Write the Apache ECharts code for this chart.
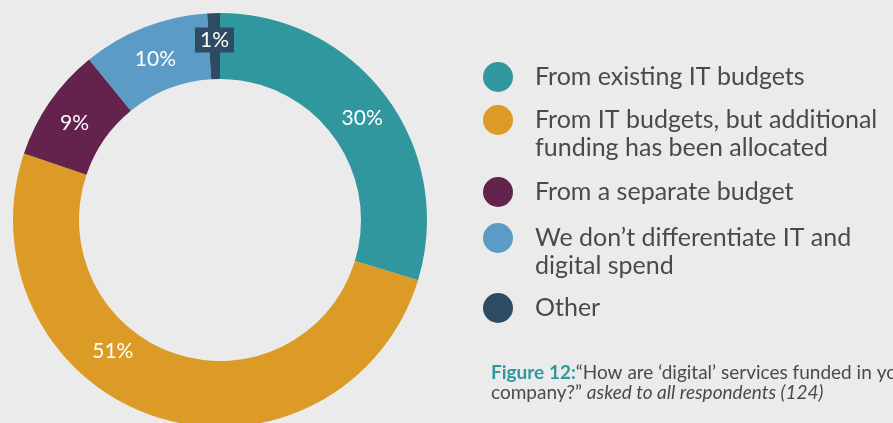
<!DOCTYPE html>
<html>
<head>
<meta charset="utf-8">
<style>
  html, body { margin: 0; padding: 0; background: #ebebeb; }
  #chart { width: 893px; height: 423px; }
</style>
<script src="https://cdn.jsdelivr.net/npm/echarts@6/dist/echarts.min.js"></script>
</head>
<body>
<div id="chart"></div>
<script>
// Funding sources for digital services (share of respondents, %)
const categories = [
  'From existing IT budgets',
  'From IT budgets, but additional\nfunding has been allocated',
  'From a separate budget',
  'We don\u2019t differentiate IT and\ndigital spend',
  'Other'
];
const values = [30, 51, 9, 10, 1];
const colors = ['#31979e', '#dc9b26', '#63234c', '#5b9bc5', '#2f4b63'];

const FONT = 'Lato, "Open Sans", sans-serif';
const TEXT = '#4a4a4a';

// Vertical centre of each legend marker (first text line aligns with it)
const legendY = [77, 120, 192, 238, 308];

const chart = echarts.init(document.getElementById('chart'), null, { renderer: 'canvas' });

const pieData = categories.map((name, i) => {
  const item = { name, value: values[i], itemStyle: { color: colors[i] } };
  if (i === 1) item.label = { offset: [-53, -37] };
  if (i === 4) item.label = { backgroundColor: colors[i], padding: [3, 5, 1, 5], offset: [0, -3] };
  return item;
});

const graphics = [];
categories.forEach((name, i) => {
  graphics.push({
    type: 'circle',
    shape: { cx: 498, cy: legendY[i], r: 15 },
    style: { fill: colors[i] }
  });
  graphics.push({
    type: 'text',
    x: 535,
    y: legendY[i] - 14,
    style: {
      text: name,
      fill: TEXT,
      font: '25px ' + FONT,
      lineHeight: 28,
      verticalAlign: 'top'
    }
  });
});

// Figure caption
graphics.push({
  type: 'text',
  x: 491,
  y: 363,
  style: {
    text: '{b|Figure 12:}{r|\u201cHow are \u2018digital\u2019 services funded in your}\n{r|company?\u201d }{i|asked to all respondents (124)}',
    fill: TEXT,
    lineHeight: 20,
    verticalAlign: 'top',
    rich: {
      b: { fontFamily: FONT, fontSize: 19, fontWeight: 'bold', fill: '#31979e', lineHeight: 20 },
      r: { fontFamily: FONT, fontSize: 19, fill: TEXT, lineHeight: 20 },
      i: { fontFamily: FONT, fontSize: 19, fontStyle: 'italic', fill: TEXT, lineHeight: 20 }
    }
  }
});

chart.setOption({
  backgroundColor: '#ebebeb',
  animation: false,
  series: [{
    type: 'pie',
    center: [220, 220],
    radius: [141, 207],
    startAngle: 90,
    clockwise: true,
    avoidLabelOverlap: false,
    label: {
      show: true,
      position: 'inside',
      formatter: '{c}%',
      color: '#ffffff',
      fontFamily: FONT,
      fontSize: 21,
      offset: [0, 4]
    },
    labelLine: { show: false },
    emphasis: { disabled: true },
    data: pieData
  }],
  graphic: graphics
});
</script>
</body>
</html>
